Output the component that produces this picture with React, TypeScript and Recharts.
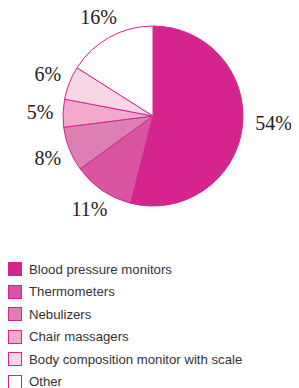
import React from 'react';
import { PieChart, Pie, Cell } from 'recharts';

const categories = [
  'Blood pressure monitors',
  'Thermometers',
  'Nebulizers',
  'Chair massagers',
  'Body composition monitor with scale',
  'Other',
];
const shares = [54, 11, 8, 5, 6, 16];
const colors = ['#D6248F', '#D9559F', '#DC80B4', '#F2A9CB', '#F9D6E5', '#FFFFFF'];
const borderColor = '#D6248F';

const data = categories.map((name, i) => ({ name, value: shares[i], color: colors[i] }));

const RADIAN = Math.PI / 180;

const renderLabel = ({ cx, cy, midAngle, outerRadius, value }: {
  cx: number; cy: number; midAngle: number; outerRadius: number; value: number;
}) => {
  const cos = Math.cos(-midAngle * RADIAN);
  const sin = Math.sin(-midAngle * RADIAN);
  // right-hand labels hang off the rim, the rest sit centred on a ring
  const right = cos > 0.5;
  const r = right ? outerRadius + 13 : outerRadius + 23;
  return (
    <text x={cx + r * cos} y={cy + r * sin - (right ? 6 : 0)} fill="#222"
      textAnchor={right ? 'start' : 'middle'} dominantBaseline="central"
      fontSize={20} fontFamily="'Liberation Serif', serif">
      {`${value}%`}
    </text>
  );
};

const ChartLegend = () => (
  <div style={{
    position: 'absolute', left: 0, top: 250,
    fontFamily: "'Liberation Sans', Arial, sans-serif", fontSize: 13.2, color: '#333',
  }}>
    {data.map((d) => (
      <div key={d.name} style={{ display: 'flex', alignItems: 'center', height: 22.5 }}>
        <span style={{
          display: 'inline-block', width: 14, height: 14, background: d.color,
          border: `1px solid ${borderColor}`, marginRight: 7, boxSizing: 'border-box',
        }} />
        <span>{d.name}</span>
      </div>
    ))}
  </div>
);

export default function App() {
  return (
    <div style={{ position: 'relative', width: 291, height: 380 }}>
      <div style={{ position: 'absolute', left: 0, top: -8 }}>
        <PieChart width={291} height={253} margin={{ top: 0, right: 0, bottom: 0, left: 0 }}>
          <Pie
            data={data}
            dataKey="value"
            cx={145}
            cy={116}
            outerRadius={90}
            startAngle={90}
            endAngle={-270}
            labelLine={false}
            label={renderLabel}
            isAnimationActive={false}
          >
            {data.map((entry, index) => (
              <Cell key={`cell-${index}`} fill={entry.color} stroke={borderColor} strokeWidth={1} />
            ))}
          </Pie>
        </PieChart>
      </div>
      <ChartLegend />
    </div>
  );
}
